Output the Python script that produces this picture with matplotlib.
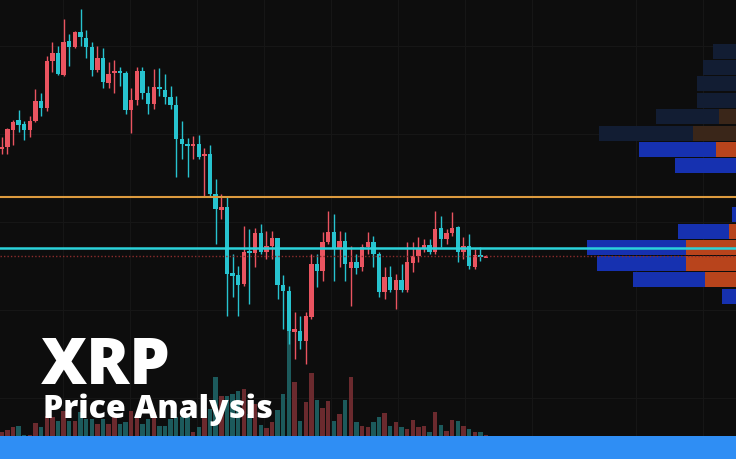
import matplotlib.pyplot as plt
from matplotlib.patches import Rectangle
import numpy as np

# candle levels (pixel rows from the top, so the axis is inverted)
opens = [150, 148, 131, 121, 125, 131, 122, 102, 109, 62, 54, 76, 42, 48, 33, 39, 48, 71, 59, 84,
         74, 72, 74, 111, 101, 72, 94, 105, 88, 91, 98, 106, 140, 145, 147, 145, 157, 155, 195, 211,
         208, 274, 276, 285, 252, 254, 234, 253, 247, 239, 286, 292, 333, 332, 342, 318, 265, 272, 243, 233,
         249, 242, 269, 263, 268, 248, 243, 255, 293, 278, 291, 281, 291, 264, 257, 249, 246, 253, 229, 240,
         234, 228, 253, 247, 268, 256, 258]
highs = [138, 129, 121, 111, 122, 117, 90, 94, 57, 43, 47, 20, 35, 32, 10, 31, 43, 47, 49, 63,
         61, 68, 72, 89, 68, 68, 87, 70, 69, 75, 87, 97, 122, 139, 137, 136, 149, 146, 180, 195,
         198, 255, 267, 227, 230, 229, 225, 232, 232, 239, 276, 287, 313, 317, 313, 255, 255, 233, 212, 215,
         232, 233, 247, 255, 245, 233, 237, 253, 268, 267, 275, 265, 243, 243, 238, 240, 240, 212, 217, 230,
         213, 227, 238, 235, 250, 248, 256]
lows = [155, 155, 146, 133, 141, 138, 123, 117, 112, 73, 76, 77, 67, 49, 47, 59, 77, 73, 89, 89,
        94, 87, 115, 134, 106, 100, 115, 110, 97, 105, 110, 178, 160, 178, 160, 160, 197, 197, 245, 220,
        317, 298, 317, 287, 305, 268, 255, 260, 260, 300, 330, 345, 360, 350, 365, 320, 288, 282, 245, 282,
        268, 282, 307, 275, 272, 255, 268, 298, 300, 293, 310, 293, 293, 273, 263, 253, 255, 255, 248, 245,
        237, 263, 260, 270, 270, 262, 258]
closes = [148, 130, 123, 126, 131, 122, 102, 109, 62, 54, 75, 43, 48, 33, 38, 48, 71, 59, 83, 75,
          72, 74, 111, 101, 72, 94, 105, 88, 90, 98, 106, 140, 145, 147, 145, 158, 155, 195, 210, 208,
          275, 277, 286, 253, 254, 234, 253, 247, 239, 286, 292, 332, 330, 342, 317, 265, 272, 243, 233, 249,
          242, 265, 263, 269, 248, 243, 255, 293, 278, 291, 281, 291, 263, 257, 249, 246, 253, 230, 240, 234,
          229, 253, 247, 267, 256, 258, 257]
volume = [5, 7, 10, 11, 2, 2, 14, 10, 21, 20, 16, 26, 16, 16, 25, 18, 18, 13, 18, 13,
          20, 13, 15, 26, 20, 13, 18, 25, 11, 11, 18, 20, 20, 21, 5, 10, 21, 28, 60, 41,
          41, 43, 46, 48, 23, 33, 12, 9, 15, 27, 43, 106, 55, 16, 35, 64, 37, 29, 36, 16,
          23, 37, 60, 15, 11, 10, 15, 20, 24, 11, 15, 10, 8, 17, 10, 11, 5, 25, 12, 6,
          17, 16, 11, 8, 5, 5, 2]

# volume profile rows on the right: row top, total width, sell (orange) width
profile_rows = [45, 61, 77, 94, 110, 127, 143, 159, 175, 191, 208, 225, 241, 257, 273, 290]
profile_total = [23, 33, 39, 39, 80, 137, 97, 61, 0, 0, 4, 58, 149, 139, 103, 14]
profile_sell = [0, 0, 0, 0, 17, 43, 20, 0, 0, 0, 0, 7, 50, 50, 31, 0]
profile_dim = [True, True, True, True, True, True, False, False, False, False, False, False, False, False, False, False]

resistance = 197.5
support = 248.5
last_price = 256.5

bg = '#0d0d0d'
up_col = '#ea5460'
dn_col = '#27c3cf'
up_vol = '#6b2a2e'
dn_vol = '#1c5a5c'

fig = plt.figure(figsize=(7.36, 4.6), dpi=100, facecolor=bg)

# pixel overlay for grid and profile
axp = fig.add_axes([0, 0, 1, 1])
axp.set_facecolor(bg)
axp.set_xlim(0, 736)
axp.set_ylim(460, 0)
axp.axis('off')
for gx in [63, 130, 197, 264, 331, 398, 465, 532, 636, 703]:
    axp.axvline(gx, color='#161616', lw=0.8, zorder=0)
for gy in [47, 135, 223, 311, 399]:
    axp.axhline(gy, color='#161616', lw=0.8, zorder=0)

for top, tot, sell, dim in zip(profile_rows, profile_total, profile_sell, profile_dim):
    if tot == 0:
        continue
    bcol = '#121d33' if dim else '#1631b0'
    scol = '#3a2619' if dim else '#b8441c'
    axp.barh(top + 7.5, tot - sell, left=736 - tot, height=15.5, color=bcol, zorder=1)
    if sell > 0:
        axp.barh(top + 7.5, sell, left=736 - sell, height=15.5, color=scol, zorder=1)

x = np.arange(len(opens))
o = np.array(opens, float)
h = np.array(highs, float)
l = np.array(lows, float)
c = np.array(closes, float)
up = c < o
cols = np.where(up, up_col, dn_col)
vcols = np.where(up, up_vol, dn_vol)

# volume
axv = fig.add_axes([0, 22 / 460, 1, 438 / 460])
axv.patch.set_alpha(0)
axv.set_xlim(-0.3, 130.4)
axv.set_ylim(0, 438)
axv.axis('off')
axv.bar(x, volume, width=0.78, color=vcols)

# candles
ax = fig.add_axes([0, 0, 1, 1])
ax.patch.set_alpha(0)
ax.set_xlim(-0.3, 130.4)
ax.set_ylim(460, 0)
ax.axis('off')
ax.vlines(x, h, l, colors=cols, lw=1.0, zorder=2)
body = np.maximum(np.abs(c - o), 1.5)
ax.bar(x, body, bottom=np.minimum(o, c), width=0.78, color=cols, zorder=3)

ax.axhline(resistance, color='#dc9a3e', lw=1.5, zorder=5)
ax.axhline(support, color='#2bd2da', lw=1.8, zorder=5)
ax.axhline(last_price, color='#8a2c2c', lw=1.0, ls=(0, (1, 1.5)), zorder=4)

fig.add_artist(Rectangle((0, 0), 1, 23 / 460, transform=fig.transFigure,
                         facecolor='#2f8ef4', edgecolor='none', zorder=4))

fig.text(41 / 736, 1 - 384 / 460, 'XRP', color='white', fontsize=46,
         family=['Open Sans', 'DejaVu Sans'], weight='heavy', va='baseline', zorder=6)
fig.text(43 / 736, 1 - 418 / 460, 'Price Analysis', color='white', fontsize=23,
         family=['Open Sans', 'DejaVu Sans'], weight='heavy', va='baseline', zorder=6)

fig.savefig('out.png', dpi=100, facecolor=bg)
